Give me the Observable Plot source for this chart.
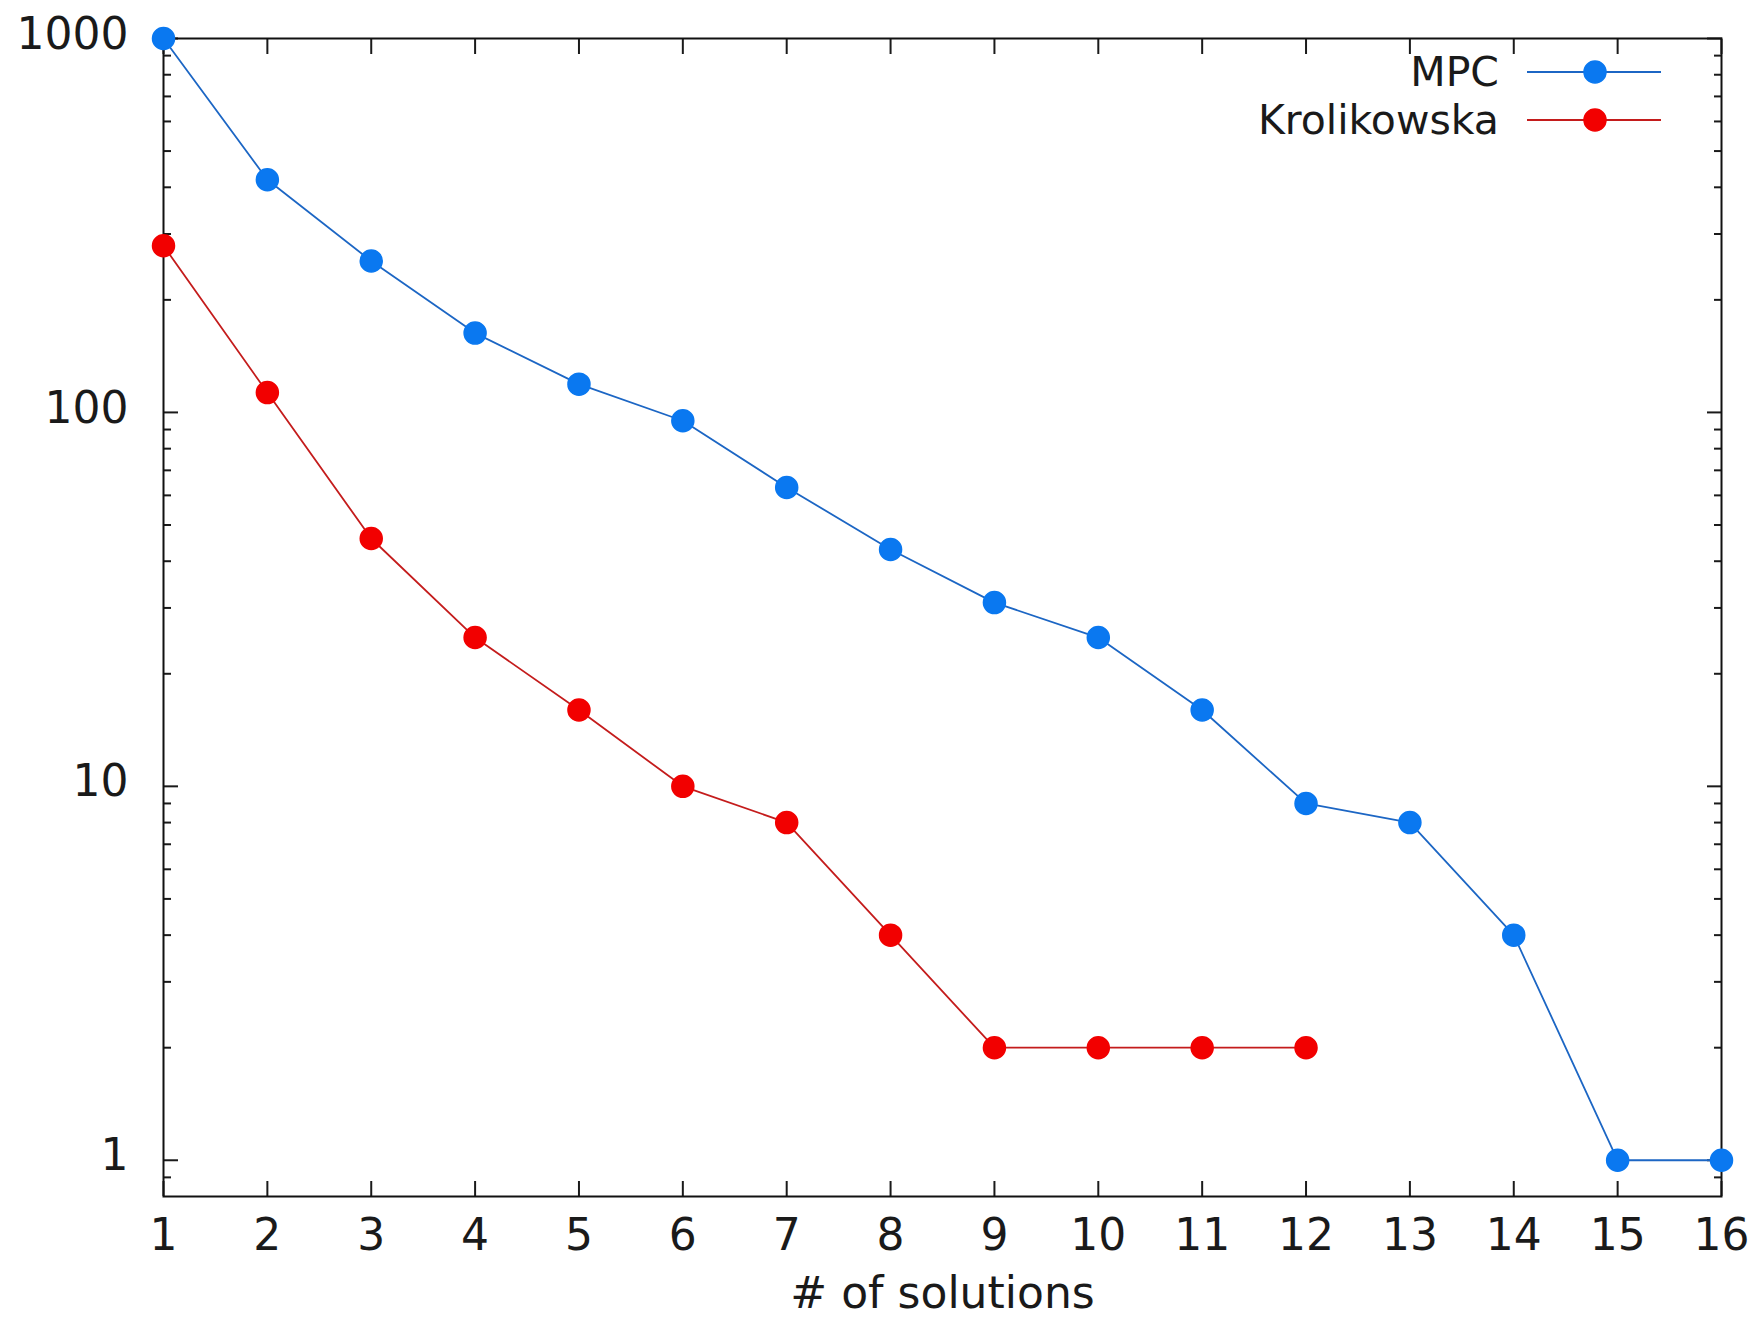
<!DOCTYPE html>
<html>
<head>
<meta charset="utf-8">
<script src="https://cdn.jsdelivr.net/npm/d3@7"></script>
<script src="https://cdn.jsdelivr.net/npm/@observablehq/plot@0.6"></script>
<style>
  html, body { margin: 0; padding: 0; background: #ffffff; }
  #chart svg { display: block; }
</style>
</head>
<body>
<div id="chart"></div>
<script>
// ---- data ----
const solutions = [1, 2, 3, 4, 5, 6, 7, 8, 9, 10, 11, 12, 13, 14, 15, 16];
const mpcValues = [1000, 419, 254, 163, 119, 95, 63, 43, 31, 25, 16, 9, 8, 4, 1, 1];
const krolikowskaValues = [279, 113, 46, 25, 16, 10, 8, 4, 2, 2, 2, 2];
const seriesNames = ["MPC", "Krolikowska"];
const markerColors = ["#0a78f0", "#f20000"];
const lineColors = ["#1c66c4", "#c41c1c"];
const xTickValues = solutions;
const xTickLabels = ["1","2","3","4","5","6","7","8","9","10","11","12","13","14","15","16"];
const yMajorTicks = [1, 10, 100, 1000];
const yTickLabels = ["1", "10", "100", "1000"];
const yMinorTicks = [0.9, 2, 3, 4, 5, 6, 7, 8, 9, 20, 30, 40, 50, 60, 70, 80, 90, 200, 300, 400, 500, 600, 700, 800, 900];
const xLabel = "# of solutions";

const seriesValues = [mpcValues, krolikowskaValues];
const rows = seriesNames.map((name, s) =>
  seriesValues[s].map((v, i) => ({series: name, x: solutions[i], y: v}))
);

const W = 1759, H = 1322;
const mL = 163, mR = 38, mT = 38, mB = 126;
const font = "DejaVu Sans, sans-serif";
const ink = "#1a1a1a";

const seriesMarks = [];
rows.forEach((data, s) => {
  seriesMarks.push(Plot.line(data, {x: "x", y: "y", stroke: lineColors[s], strokeWidth: 1.8}));
  seriesMarks.push(Plot.dot(data, {x: "x", y: "y", r: 11, fill: markerColors[s], stroke: markerColors[s], strokeWidth: 1.5}));
});

const chart = Plot.plot({
  width: W,
  height: H,
  marginLeft: mL,
  marginRight: mR,
  marginTop: mT,
  marginBottom: mB,
  style: {fontFamily: font, fontSize: "44px", color: ink, background: "#ffffff"},
  x: {domain: [1, 16]},
  y: {type: "log", domain: [0.8, 1000]},
  marks: [
    // inward tick marks
    Plot.axisX(xTickValues, {anchor: "bottom", tickSize: -15, fill: "none", strokeWidth: 2, label: null}),
    Plot.axisX(xTickValues, {anchor: "top", tickSize: -15, fill: "none", strokeWidth: 2, label: null}),
    Plot.axisY(yMajorTicks, {anchor: "left", tickSize: -15, fill: "none", strokeWidth: 2, label: null}),
    Plot.axisY(yMinorTicks, {anchor: "left", tickSize: -8, fill: "none", strokeWidth: 2, label: null}),
    Plot.axisY(yMajorTicks, {anchor: "right", tickSize: -15, fill: "none", strokeWidth: 2, label: null}),
    Plot.axisY(yMinorTicks, {anchor: "right", tickSize: -8, fill: "none", strokeWidth: 2, label: null}),
    // tick labels
    Plot.axisX(xTickValues, {anchor: "bottom", tickSize: 0, tickPadding: 22, label: null,
      tickFormat: (d) => xTickLabels[xTickValues.indexOf(d)]}),
    Plot.axisY(yMajorTicks, {anchor: "left", tickSize: 0, tickPadding: 35, dy: -4, label: null,
      tickFormat: (d) => yTickLabels[yMajorTicks.indexOf(d)]}),
    // axis title
    Plot.text([xLabel], {text: (d) => d, frameAnchor: "bottom", dy: 97, lineAnchor: "middle", fill: ink}),
    Plot.frame({stroke: "#111111", strokeWidth: 2}),
    ...seriesMarks
  ]
});

document.getElementById("chart").appendChild(chart);

// ---- legend (top-right, inside the frame) ----
const svg = d3.select(chart);
const frameRight = W - mR;
const legend = svg.append("g").attr("class", "legend")
  .attr("font-family", font).attr("font-size", 41).attr("fill", ink);
seriesNames.forEach((name, s) => {
  const cy = 72 + s * 48;
  legend.append("text")
    .attr("x", frameRight - 222).attr("y", cy).attr("dy", "0.33em")
    .attr("text-anchor", "end").text(name);
  legend.append("line")
    .attr("x1", frameRight - 194).attr("x2", frameRight - 60)
    .attr("y1", cy).attr("y2", cy)
    .attr("stroke", lineColors[s]).attr("stroke-width", 2);
  legend.append("circle")
    .attr("cx", frameRight - 126).attr("cy", cy).attr("r", 11)
    .attr("fill", markerColors[s]).attr("stroke", markerColors[s]).attr("stroke-width", 1.5);
});
</script>
</body>
</html>
